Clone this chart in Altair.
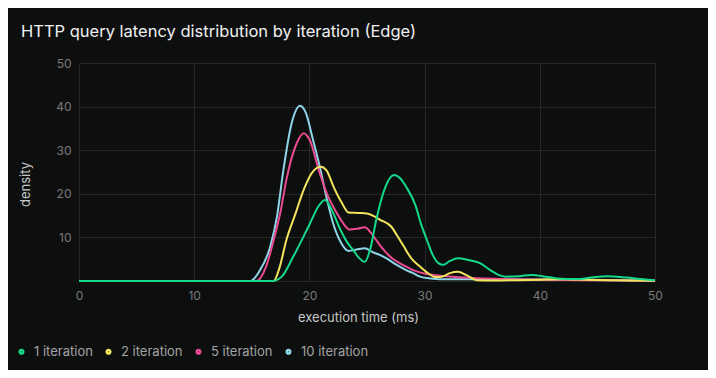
import altair as alt
import pandas as pd

series_names = ["1 iteration", "2 iteration", "5 iteration", "10 iteration"]
series_colors = ["#14d98b", "#f4e45c", "#ec4a91", "#8fd4e8"]

x_1 = [0, 16.8, 17.6, 18.6, 20.05, 20.8, 21.35, 21.9, 22.7, 23.3, 23.8, 24.3, 24.8, 25.3, 25.8, 26.6, 27.35, 27.9, 28.4, 29.2, 29.7, 30.2, 30.7, 31.2, 31.6, 32.2, 32.9, 33.8, 34.8, 35.7, 36.4, 37.0, 38.2, 39.3, 40.5, 41.5, 43.2, 44.5, 45.8, 47.5, 49.0, 50]
d_1 = [0, 0, 1.0, 5.6, 13.2, 17.2, 18.6, 16.5, 11.7, 8.8, 7.1, 5.3, 4.4, 7.5, 14.0, 21.6, 24.3, 23.5, 21.6, 17.4, 13.0, 9.4, 6.0, 4.1, 3.7, 4.6, 5.2, 4.8, 4.1, 2.5, 1.4, 1.0, 1.1, 1.4, 1.0, 0.6, 0.45, 0.8, 1.1, 0.8, 0.4, 0.2]

x_2 = [0, 16.9, 17.4, 18.0, 18.8, 19.5, 20.3, 21.0, 21.5, 22.1, 22.8, 23.4, 24.2, 25.0, 25.6, 26.1, 27.1, 27.6, 28.2, 28.9, 29.6, 30.4, 30.9, 31.5, 32.2, 32.9, 33.6, 34.5, 36, 38, 40, 42, 44, 46, 48, 50]
d_2 = [0, 0, 3.0, 9.4, 15.5, 20.9, 25.1, 26.2, 25.3, 21.6, 18.0, 15.7, 15.6, 15.5, 14.9, 14.1, 12.5, 10.5, 7.9, 5.0, 3.3, 1.6, 0.9, 1.0, 1.8, 2.1, 1.4, 0.2, 0.1, 0.2, 0.3, 0.4, 0.3, 0.2, 0.1, 0.05]

x_5 = [0, 15.4, 16.2, 16.9, 17.5, 18.0, 18.9, 19.5, 20.0, 20.9, 21.6, 22.4, 23.0, 23.5, 24.2, 24.8, 25.3, 25.8, 26.1, 27.0, 28.4, 29.0, 30.2, 31.0, 33.4, 36, 40, 44, 50]
d_5 = [0, 0, 3.0, 9.4, 16.0, 23.2, 31.6, 33.9, 32.5, 24.7, 19.5, 15.5, 13.0, 11.8, 12.0, 12.3, 11.2, 9.4, 8.3, 5.6, 3.3, 2.5, 1.6, 1.3, 0.8, 0.5, 0.3, 0.2, 0.05]

x_10 = [0, 14.9, 15.6, 16.6, 17.2, 17.7, 18.46, 19.2, 19.7, 20.3, 20.9, 21.5, 22.05, 22.7, 23.4, 24.1, 24.8, 25.5, 26.1, 26.7, 27.5, 28.4, 29.0, 29.6, 30.5, 32, 36, 40, 44, 50]
d_10 = [0, 0, 2.0, 7.9, 15.0, 24.7, 36.2, 40.2, 38.5, 32.5, 26.2, 19.0, 13.3, 9.0, 6.9, 7.2, 7.5, 6.6, 6.0, 5.2, 3.8, 2.5, 1.8, 1.0, 0.6, 0.4, 0.4, 0.35, 0.3, 0.05]

x_ticks = [0, 10, 20, 30, 40, 50]
y_ticks = [0, 10, 20, 30, 40, 50]

rows = []
# draw order: 10 first, 1 last (on top)
for name, xs, ds in [("10 iteration", x_10, d_10), ("5 iteration", x_5, d_5),
                     ("2 iteration", x_2, d_2), ("1 iteration", x_1, d_1)]:
    for xv, dv in zip(xs, ds):
        rows.append({"series": name, "x": xv, "density": dv})
df = pd.DataFrame(rows)

FONT = "Inter"

chart = alt.Chart(df).mark_line(interpolate="monotone", strokeWidth=2).encode(
    x=alt.X("x:Q", scale=alt.Scale(domain=[0, 50], nice=False),
            axis=alt.Axis(values=x_ticks, title="execution time (ms)", grid=True,
                          domain=False, ticks=False, labelPadding=9, labelFlush=False,
                          titleX=279, titleY=36, titleBaseline="middle")),
    y=alt.Y("density:Q", scale=alt.Scale(domain=[0, 50], nice=False),
            axis=alt.Axis(values=y_ticks, title="density", grid=True,
                          domain=False, ticks=False, labelPadding=8,
                          labelExpr="datum.value == 0 ? '' : datum.label",
                          titleX=-54, titleY=121, titleBaseline="middle")),
    color=alt.Color("series:N",
                    scale=alt.Scale(domain=series_names, range=series_colors),
                    legend=alt.Legend(title=None, orient="none", direction="horizontal",
                                      columns=4, legendX=-64, legendY=282,
                                      symbolType="circle", symbolSize=12,
                                      symbolStrokeWidth=2.6, labelOffset=6,
                                      columnPadding=8, labelFontSize=13,
                                      labelColor="#a3a3a3", labelFont=FONT)),
    detail="series:N",
).properties(
    width=576,
    height=218,
    autosize=alt.AutoSizeParams(type="none"),
    padding={"left": 71, "top": 55, "right": 53, "bottom": 89},
    background="#0d0f0f",
    title=alt.TitleParams("HTTP query latency distribution by iteration (Edge)",
                          anchor="start", frame="group", dx=-58, offset=17,
                          fontSize=16.5, fontWeight="normal", color="#f0f0f0", font=FONT),
).configure_view(
    stroke=None,
).configure_axis(
    gridColor="#262828",
    gridWidth=1,
    labelColor="#7a7a7a",
    labelFontSize=12,
    labelFont=FONT,
    titleColor="#c6c6c6",
    titleFontSize=13,
    titleFont=FONT,
    titleFontWeight="normal",
)

chart.save("out.html", embed_options={"renderer": "svg", "actions": False})
